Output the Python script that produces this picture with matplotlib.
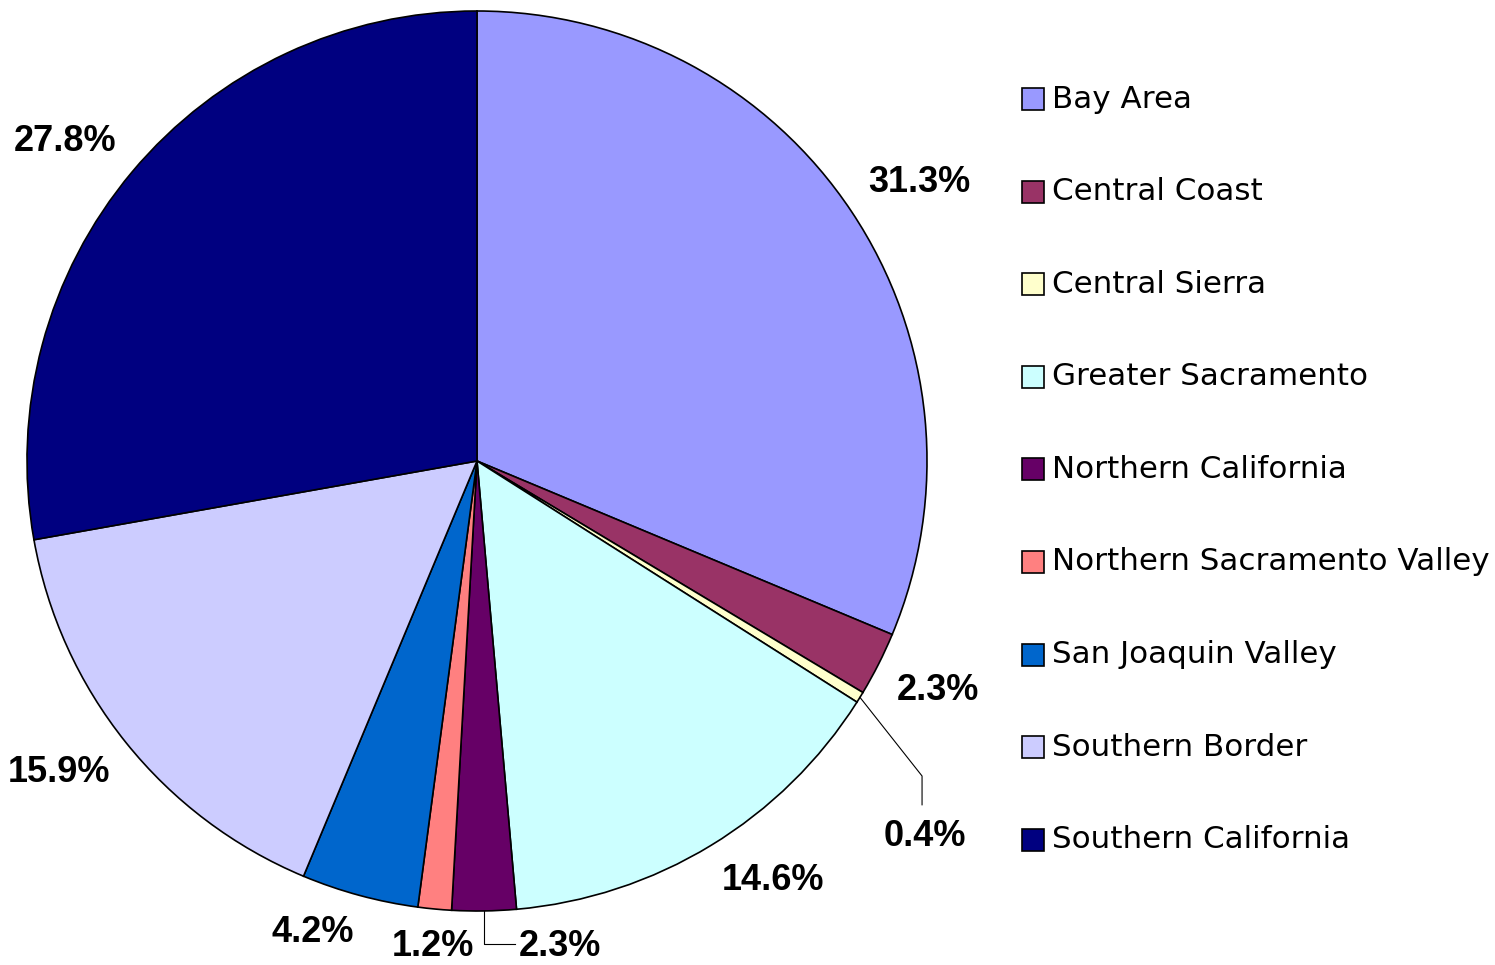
import numpy as np
import matplotlib
matplotlib.use("Agg")
import matplotlib.pyplot as plt
from matplotlib.patches import Rectangle

plt.rcParams['font.family'] = ['Liberation Sans', 'DejaVu Sans']

regioes = ["Bay Area", "Central Coast", "Central Sierra", "Greater Sacramento",
           "Northern California", "Northern Sacramento Valley", "San Joaquin Valley",
           "Southern Border", "Southern California"]
percentuais = [31.3, 2.3, 0.4, 14.6, 2.3, 1.2, 4.2, 15.9, 27.8]
cores = ["#9999FF", "#993366", "#FFFFCC", "#CCFFFF", "#660066",
         "#FF8080", "#0066CC", "#CCCCFF", "#000080"]

W, H = 1495, 965
fig = plt.figure(figsize=(W / 100, H / 100), dpi=100)

# pizza: centro (477, 461) px, raio 450 px
cx, cy, R = 477, 461, 450
ax = fig.add_axes([(cx - R) / W, (H - cy - R) / H, 2 * R / W, 2 * R / H])

wedges, _ = ax.pie(percentuais, colors=cores, startangle=90, counterclock=False,
                   radius=1, wedgeprops=dict(edgecolor='black', linewidth=1.2))
ax.set_xlim(-1, 1)
ax.set_ylim(-1, 1)
ax.set_aspect('equal')
ax.axis('off')

fonte_rot = dict(fontsize=26, fontweight='bold', clip_on=False)

for i, (w, p) in enumerate(zip(wedges, percentuais)):
    ang = np.deg2rad((w.theta1 + w.theta2) / 2)
    c, s = np.cos(ang), np.sin(ang)
    txt = f"{p:.1f}%"
    if regioes[i] == "Central Sierra":
        # linha de chamada
        ax.plot([c, 0.989, 0.989], [s, -0.700, -0.764], color='black', lw=0.8, clip_on=False)
        ax.text(0.995, -0.834, txt, ha='center', va='center', **fonte_rot)
        continue
    if regioes[i] == "Northern California":
        ax.plot([c, c, 0.084], [s, -1.073, -1.073], color='black', lw=0.8, clip_on=False)
        ax.text(0.093, -1.078, txt, ha='left', va='center', **fonte_rot)
        continue
    r = 1.045
    ha = 'left' if c > 0.2 else ('right' if c < -0.2 else 'center')
    va = 'bottom' if s > 0 else 'top'
    ax.text(r * c, r * s, txt, ha=ha, va=va, **fonte_rot)

# legenda
y0, passo = 99, 92.6
lado = 22
for i, (nome, cor) in enumerate(zip(regioes, cores)):
    yc = y0 + i * passo
    fig.add_artist(Rectangle((1022 / W, (H - yc - lado / 2) / H), lado / W, lado / H,
                             facecolor=cor, edgecolor='black', linewidth=1.2,
                             transform=fig.transFigure))
    fig.text(1052 / W, (H - yc) / H, nome, fontsize=22.3, ha='left', va='center',
             family='DejaVu Sans')

fig.savefig("out.png", dpi=100)
